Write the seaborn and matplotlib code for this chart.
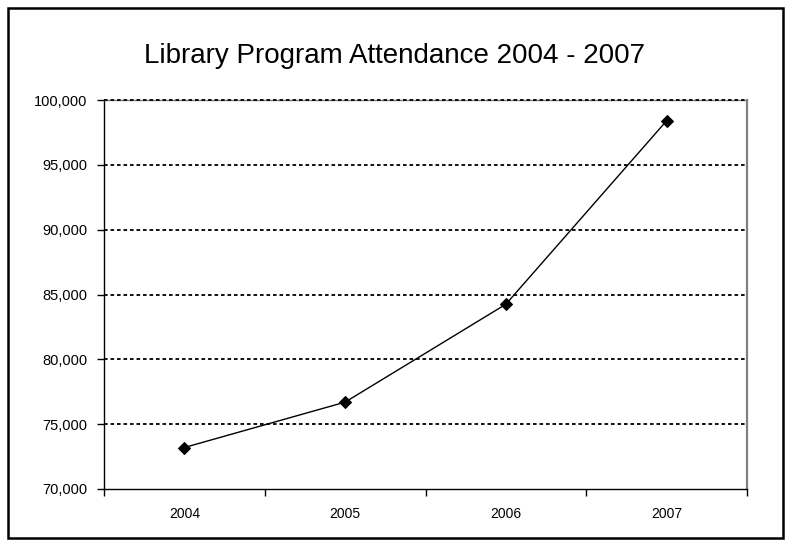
import matplotlib
matplotlib.use("Agg")
import matplotlib.pyplot as plt
from matplotlib.patches import Rectangle
from matplotlib.ticker import FuncFormatter, FixedLocator
import seaborn as sns
import pandas as pd

years = ["2004", "2005", "2006", "2007"]
attendance = [73200, 76700, 84250, 98400]
y_ticks = [70000, 75000, 80000, 85000, 90000, 95000, 100000]
title = "Library Program Attendance 2004 - 2007"

sns.set_theme(style="white")
plt.rcParams["font.family"] = ["Liberation Sans", "DejaVu Sans"]

df = pd.DataFrame({"year": years, "attendance": attendance})

fig = plt.figure(figsize=(7.9, 5.4), dpi=100)
ax = fig.add_axes([104 / 790, 1 - 489 / 540, (747 - 104) / 790, (489 - 100) / 540])

sns.pointplot(data=df, x="year", y="attendance", color="black", markers="D",
              markersize=6.5, linewidth=1, ax=ax)

ax.set_ylim(70000, 100000)
ax.set_xlim(-0.5, 3.5)
ax.set_yticks(y_ticks)
ax.yaxis.set_major_formatter(FuncFormatter(lambda v, p: f"{int(v):,}"))
ax.set_xlabel("")
ax.set_ylabel("")

# dotted horizontal gridlines (the top one sits over the frame)
for v in y_ticks[1:]:
    ax.axhline(v, color="black", linestyle=(0, (2, 1.6)), linewidth=1.3,
               zorder=1 if v < 100000 else 5, clip_on=False)

# spines: black axes, grey plot-area frame
for side in ("left", "bottom"):
    ax.spines[side].set_color("black")
    ax.spines[side].set_linewidth(1.0)
ax.spines["right"].set_color("#808080")
ax.spines["right"].set_linewidth(1.6)
ax.spines["top"].set_color("#808080")
ax.spines["top"].set_linewidth(1.0)

# category boundary ticks on x, outward ticks on y
ax.xaxis.set_minor_locator(FixedLocator([-0.5, 0.5, 1.5, 2.5, 3.5]))
ax.tick_params(axis="x", which="major", length=0, pad=13, labelsize=10, colors="black")
ax.tick_params(axis="x", which="minor", bottom=True, length=5, width=1, color="black")
ax.tick_params(axis="y", which="major", left=True, length=5, width=1, pad=7,
               labelsize=10.5, colors="black")

fig.text(0.5, 1 - 56 / 540, title, ha="center", va="center", fontsize=20, color="black")

# outer chart frame
fig.patches.append(Rectangle((8 / 790, 1 - 538 / 540), (783 - 8) / 790, (538 - 8) / 540,
                             transform=fig.transFigure, fill=False, edgecolor="black",
                             linewidth=1.8))

fig.savefig("out.png", dpi=100)
